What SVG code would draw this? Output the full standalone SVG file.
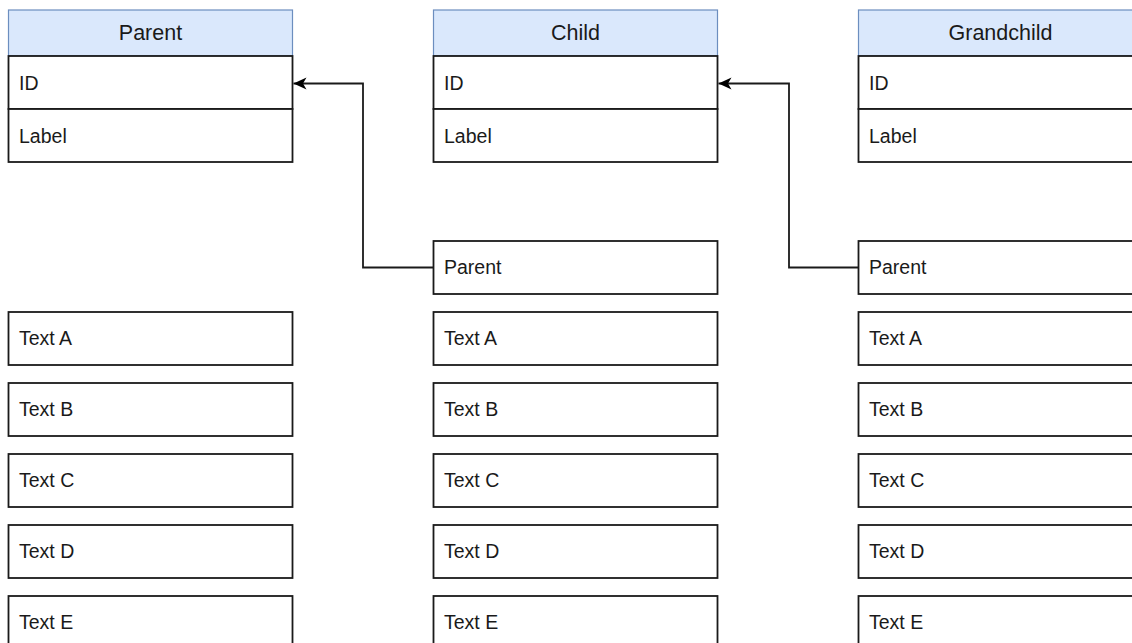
<svg xmlns="http://www.w3.org/2000/svg" width="1132" height="643" viewBox="0 0 1132 643">
  <style>
    .head { fill: #dae8fc; stroke: #6c8ebf; stroke-width: 1.2; }
    .row { fill: #ffffff; stroke: #1a1a1a; stroke-width: 1.8; }
    .htxt { font-family: "Liberation Sans", Arial, sans-serif; font-size: 21.5px; fill: #1a1a1a; text-anchor: middle; }
    .txt { font-family: "Liberation Sans", Arial, sans-serif; font-size: 19.5px; fill: #1a1a1a; }
    .link { fill: none; stroke: #1a1a1a; stroke-width: 1.8; }
  </style>
  <defs>
    <marker id="arrow" viewBox="0 0 14 14" refX="13" refY="7" markerWidth="14" markerHeight="14" markerUnits="userSpaceOnUse" orient="auto">
      <path d="M0,1 L13,7 L0,13 L3.5,7 Z" fill="#000000"/>
    </marker>
  </defs>
  <rect width="1132" height="643" fill="#ffffff"/>

  <!-- Parent table -->
  <g id="parent">
    <rect class="head" x="8.5" y="10" width="284" height="46"/>
    <text class="htxt" x="150.5" y="40">Parent</text>
    <rect class="row" x="8.5" y="56" width="284" height="53"/>
    <text class="txt" x="19" y="90">ID</text>
    <rect class="row" x="8.5" y="109" width="284" height="53"/>
    <text class="txt" x="19" y="143">Label</text>
  </g>
  <g id="parent-text-a"><rect class="row" x="8.5" y="312" width="284" height="53"/><text class="txt" x="19" y="345">Text A</text></g>
  <g id="parent-text-b"><rect class="row" x="8.5" y="383" width="284" height="53"/><text class="txt" x="19" y="416">Text B</text></g>
  <g id="parent-text-c"><rect class="row" x="8.5" y="454" width="284" height="53"/><text class="txt" x="19" y="487">Text C</text></g>
  <g id="parent-text-d"><rect class="row" x="8.5" y="525" width="284" height="53"/><text class="txt" x="19" y="558">Text D</text></g>
  <g id="parent-text-e"><rect class="row" x="8.5" y="596" width="284" height="53"/><text class="txt" x="19" y="629">Text E</text></g>

  <!-- Child table -->
  <g id="child">
    <rect class="head" x="433.5" y="10" width="284" height="46"/>
    <text class="htxt" x="575.5" y="40">Child</text>
    <rect class="row" x="433.5" y="56" width="284" height="53"/>
    <text class="txt" x="444" y="90">ID</text>
    <rect class="row" x="433.5" y="109" width="284" height="53"/>
    <text class="txt" x="444" y="143">Label</text>
  </g>
  <g id="child-parent"><rect class="row" x="433.5" y="241" width="284" height="53"/><text class="txt" x="444" y="274">Parent</text></g>
  <g id="child-text-a"><rect class="row" x="433.5" y="312" width="284" height="53"/><text class="txt" x="444" y="345">Text A</text></g>
  <g id="child-text-b"><rect class="row" x="433.5" y="383" width="284" height="53"/><text class="txt" x="444" y="416">Text B</text></g>
  <g id="child-text-c"><rect class="row" x="433.5" y="454" width="284" height="53"/><text class="txt" x="444" y="487">Text C</text></g>
  <g id="child-text-d"><rect class="row" x="433.5" y="525" width="284" height="53"/><text class="txt" x="444" y="558">Text D</text></g>
  <g id="child-text-e"><rect class="row" x="433.5" y="596" width="284" height="53"/><text class="txt" x="444" y="629">Text E</text></g>

  <!-- Grandchild table -->
  <g id="grandchild">
    <rect class="head" x="858.5" y="10" width="284" height="46"/>
    <text class="htxt" x="1000.5" y="40">Grandchild</text>
    <rect class="row" x="858.5" y="56" width="284" height="53"/>
    <text class="txt" x="869" y="90">ID</text>
    <rect class="row" x="858.5" y="109" width="284" height="53"/>
    <text class="txt" x="869" y="143">Label</text>
  </g>
  <g id="grandchild-parent"><rect class="row" x="858.5" y="241" width="284" height="53"/><text class="txt" x="869" y="274">Parent</text></g>
  <g id="grandchild-text-a"><rect class="row" x="858.5" y="312" width="284" height="53"/><text class="txt" x="869" y="345">Text A</text></g>
  <g id="grandchild-text-b"><rect class="row" x="858.5" y="383" width="284" height="53"/><text class="txt" x="869" y="416">Text B</text></g>
  <g id="grandchild-text-c"><rect class="row" x="858.5" y="454" width="284" height="53"/><text class="txt" x="869" y="487">Text C</text></g>
  <g id="grandchild-text-d"><rect class="row" x="858.5" y="525" width="284" height="53"/><text class="txt" x="869" y="558">Text D</text></g>
  <g id="grandchild-text-e"><rect class="row" x="858.5" y="596" width="284" height="53"/><text class="txt" x="869" y="629">Text E</text></g>

  <!-- Foreign-key links -->
  <g id="connectors">
    <path class="link" d="M433.5,267.5 H363 V83.5 H293.5" marker-end="url(#arrow)"/>
    <path class="link" d="M858.5,267.5 H789 V83.5 H718.5" marker-end="url(#arrow)"/>
  </g>
</svg>
